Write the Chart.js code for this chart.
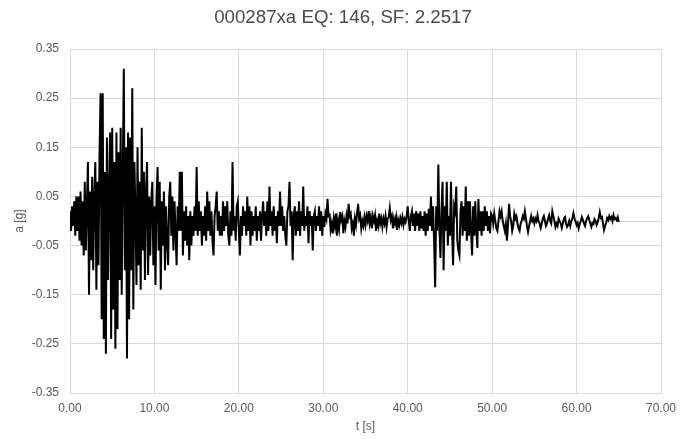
<!DOCTYPE html>
<html>
<head>
<meta charset="utf-8">
<script src="https://cdn.jsdelivr.net/npm/chart.js@4/dist/chart.umd.min.js"></script>
<style>
  html, body { margin: 0; padding: 0; background: #ffffff; }
  #wrap { width: 680px; height: 439px; }
</style>
</head>
<body>
<div id="wrap"><canvas id="c" width="680" height="439"></canvas></div>
<script>
// ---- Data (acceleration record) ----
const chartTitle = "000287xa EQ: 146, SF: 2.2517";
const xTitle = "t [s]";
const yTitle = "a [g]";
const dt = 0.125;          // sampling interval [s]
const t0 = 0;              // start time [s]

// 0 s - 13 s (strong motion)
const accelStrong = [
  0.02, -0.02, 0.03, -0.01, 0.04, -0.03, 0.05, -0.02,
  0.05, -0.04, 0.06, -0.05, 0.04, -0.07, 0.08, -0.06,
  0.03, 0.12, -0.15, 0.06, -0.08, 0.09, -0.10, 0.05,
  0.12, -0.14, 0.08, -0.09, 0.14, 0.26, -0.20, 0.26,
  -0.24, 0.10, -0.27, 0.17, -0.12, 0.06, 0.18, -0.24,
  0.19, -0.18, 0.12, -0.26, 0.18, -0.22, 0.14, -0.12,
  0.19, -0.15, 0.10, 0.31, -0.10, 0.15, -0.28, 0.18,
  -0.20, 0.17, -0.10, 0.27, -0.18, 0.12, 0.02, -0.13,
  0.15, -0.09, 0.08, -0.14, 0.19, -0.06, 0.10, -0.12,
  0.06, 0.12, -0.11, 0.05, -0.07, 0.04, 0.08, -0.09,
  0.03, -0.13, 0.05, 0.11, -0.06, 0.08, -0.14, 0.04,
  -0.05, 0.06, -0.10, 0.03, -0.04, -0.09, 0.05, 0.08,
  -0.03, 0.05, -0.06, 0.04, -0.02, -0.09, 0.03, -0.02
];
// 13 s - 30 s
const accelCoda = [
  0.10, -0.02, 0.10, -0.07, 0.02, -0.04, 0.03, -0.05,
  0.01, -0.08, 0.02, -0.05, 0.01, -0.03, 0.03, -0.02,
  0.11, -0.03, 0.04, -0.02, 0.02, -0.05, 0.01, -0.03,
  0.03, -0.04, 0.06, -0.02, 0.04, -0.03, 0.02, -0.04,
  -0.07, 0.01, 0.03, 0.06, -0.02, 0.02, -0.03, 0.01,
  -0.03, 0.04, -0.02, 0.03, -0.01, 0.04, -0.03, -0.05,
  0.02, -0.03, 0.12, -0.02, 0.01, -0.04, 0.03, 0.04,
  -0.02, -0.07, 0.01, -0.03, 0.03, -0.01, 0.02, -0.03,
  0.05, -0.02, 0.03, -0.05, 0.02, -0.03, 0.01, -0.02,
  0.03, -0.04, 0.01, -0.02, 0.02, -0.04, 0.01, 0.04,
  -0.01, 0.02, -0.03, 0.04, -0.02, 0.07, -0.01, 0.02,
  -0.03, 0.03, -0.02, 0.01, -0.045, 0.02, -0.01, 0.06,
  -0.01, 0.03, -0.02, 0.01, -0.03, -0.05, 0.02, 0.03,
  0.08, -0.01, 0.02, -0.08, 0.01, 0.03, -0.03, 0.02,
  -0.02, 0.04, -0.03, 0.02, -0.01, 0.07, -0.02, 0.01,
  -0.01, 0.03, -0.045, 0.02, -0.01, 0.01, -0.06, 0.01,
  0.02, -0.02, 0.01, -0.01, 0.03, -0.02, 0.02, -0.03
];
// 30 s - 43 s (quiet interval)
const accelQuiet = [
  0.01, -0.012, 0.015, 0.005, 0.045, 0.01, 0.012, -0.018,
  -0.005, -0.025, 0.005, -0.01, 0.015, -0.03, 0.00, -0.015,
  0.018, 0.002, 0.01, -0.025, 0.00, -0.012, 0.01, -0.005,
  0.035, 0.01, 0.015, -0.015, -0.005, -0.03, 0.005, -0.008,
  0.015, 0.035, 0.005, 0.012, -0.015, 0.00, -0.01, 0.008,
  -0.008, 0.01, 0.00, 0.02, -0.005, 0.008, -0.015, 0.01,
  0.00, 0.012, -0.02, 0.00, -0.01, 0.015, -0.005, 0.005,
  -0.012, 0.005, -0.005, 0.01, -0.012, 0.005, 0.008, 0.026,
  0.002, 0.01, -0.015, 0.005, -0.005, 0.008, -0.018, 0.002,
  -0.008, 0.006, -0.004, 0.008, -0.008, 0.004, -0.002, 0.01,
  0.03, 0.00, -0.02, 0.01, 0.02, -0.01, 0.015, -0.02,
  0.02, -0.01, 0.015, -0.02, 0.02, -0.015, 0.01, -0.02,
  0.02, -0.03, 0.015, -0.02, 0.025, -0.01, 0.05, -0.02
];
// 43 s - 65 s (second event and tail)
const accelSecond = [
  0.03, -0.04, -0.135, 0.03, -0.02, 0.115, -0.01, -0.075,
  0.02, 0.08, -0.10, 0.03, -0.02, 0.08, -0.05, 0.01,
  -0.03, 0.08, -0.02, -0.09, 0.03, 0.02, 0.07, -0.04,
  -0.06, -0.07, 0.02, 0.04, -0.03, 0.03, -0.02, 0.07,
  -0.04, 0.04, -0.03, 0.04, -0.02, -0.07, 0.03, -0.03,
  0.04, -0.02, -0.055, 0.045, -0.02, 0.02, -0.03, 0.02,
  -0.02, 0.03, -0.01, 0.02, -0.02, 0.01, -0.025, 0.015,
  0.01, -0.005, 0.015, 0.00, -0.015, -0.02, 0.00, 0.02,
  0.01, 0.02, 0.00, -0.01, -0.02, -0.005, -0.04, -0.01,
  0.035, 0.01, 0.00, -0.02, -0.01, 0.015, 0.005, 0.01,
  -0.005, -0.015, -0.02, -0.005, 0.00, 0.01, 0.005, 0.02,
  0.005, -0.01, -0.022, -0.01, 0.00, 0.01, 0.00, 0.005,
  -0.005, 0.005, 0.00, 0.012, 0.00, -0.005, -0.014, -0.005,
  0.005, 0.01, 0.00, -0.01, -0.005, 0.005, 0.012, 0.00,
  -0.005, 0.02, 0.01, 0.00, -0.012, -0.005, -0.01, 0.005,
  0.00, -0.005, -0.014, -0.005, 0.005, 0.008, -0.005, -0.012,
  -0.008, 0.00, -0.01, 0.00, 0.005, 0.016, 0.005, 0.00,
  -0.008, -0.004, -0.015, -0.006, 0.00, 0.008, 0.002, -0.005,
  -0.01, 0.00, 0.006, 0.01, 0.002, -0.005, -0.012, -0.004,
  -0.006, 0.004, 0.00, -0.008, -0.002, 0.006, 0.018, 0.006,
  0.008, -0.004, -0.018, -0.01, -0.004, 0.006, 0.002, 0.01,
  0.004, 0.008, 0.00, 0.012, 0.004, 0.006, 0.002, 0.008,
  -0.002
];

// axis ranges / ticks
const xMin = 0, xMax = 70, xStep = 10;
const yMin = -0.35, yMax = 0.35, yStep = 0.1;

// ---- Build ----
const accel = accelStrong.concat(accelCoda, accelQuiet, accelSecond);
const points = accel.map((a, i) => ({ x: t0 + i * dt, y: a }));

const gridColor = '#d9d9d9';
const textColor = '#595959';
const fontFamily = '"Liberation Sans", Arial, sans-serif';

const zeroLine = {
  id: 'zeroLine',
  beforeDatasetsDraw(chart) {
    const { ctx, chartArea, scales } = chart;
    const y = Math.round(scales.y.getPixelForValue(0)) + 0.5;
    ctx.save();
    ctx.strokeStyle = gridColor;
    ctx.lineWidth = 1;
    ctx.beginPath();
    ctx.moveTo(chartArea.left, y);
    ctx.lineTo(chartArea.right, y);
    ctx.stroke();
    ctx.restore();
  }
};

new Chart(document.getElementById('c'), {
  type: 'line',
  data: {
    datasets: [{
      data: points,
      borderColor: '#000000',
      borderWidth: 2,
      pointRadius: 0,
      pointHoverRadius: 0,
      tension: 0,
      fill: false
    }]
  },
  options: {
    responsive: false,
    animation: false,
    parsing: false,
    events: [],
    layout: { padding: { left: 25, right: 19, top: 0, bottom: 0 } },
    plugins: {
      legend: { display: false },
      tooltip: { enabled: false },
      title: {
        display: true,
        text: chartTitle,
        color: '#4a4a4a',
        font: { family: fontFamily, size: 18.7, weight: 'normal' },
        padding: { top: 7, bottom: 19.6 }
      }
    },
    scales: {
      x: {
        type: 'linear',
        min: xMin, max: xMax,
        afterFit(scale) { scale.height = 46; scale.paddingRight = 0; scale.paddingLeft = 0; },
        border: { display: true, color: gridColor },
        grid: { color: gridColor, lineWidth: 1, drawTicks: false },
        ticks: {
          stepSize: xStep,
          padding: 8,
          color: textColor,
          maxRotation: 0,
          autoSkip: false,
          font: { family: fontFamily, size: 12 },
          callback: v => Number(v).toFixed(2)
        },
        title: {
          display: true, text: xTitle, color: textColor,
          font: { family: fontFamily, size: 12 },
          padding: { top: 0, bottom: 5 }
        }
      },
      y: {
        type: 'linear',
        min: yMin, max: yMax,
        afterFit(scale) { scale.width = 45; scale.paddingTop = 0; scale.paddingBottom = 0; },
        border: { display: true, color: gridColor },
        grid: { color: gridColor, lineWidth: 1, drawTicks: false },
        ticks: {
          stepSize: yStep,
          padding: 11,
          color: textColor,
          autoSkip: false,
          font: { family: fontFamily, size: 12 },
          callback: v => Number(v).toFixed(2)
        },
        title: {
          display: true, text: yTitle, color: textColor,
          font: { family: fontFamily, size: 12 },
          padding: { top: -12.2, bottom: 0 }
        }
      }
    }
  },
  plugins: [zeroLine]
});
</script>
</body>
</html>
